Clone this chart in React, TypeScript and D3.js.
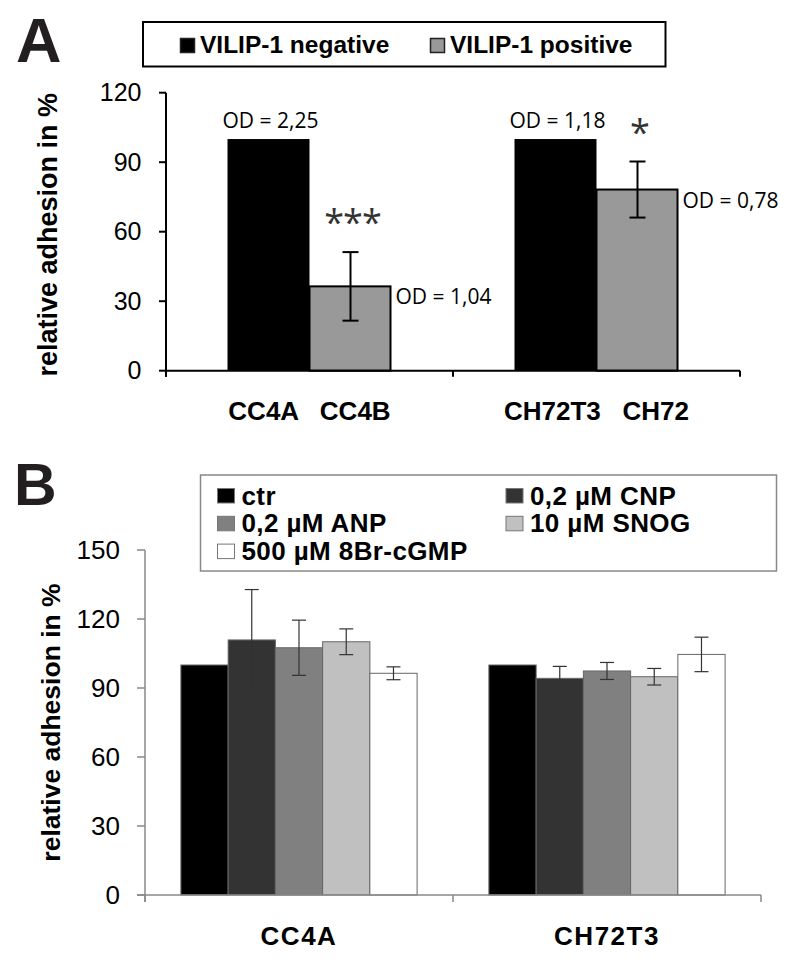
import React from "react";
import * as d3 from "d3";

// ---------- Panel A data ----------
const groupsA = ["CC4", "CH72"];
const groupLabelsA = ["CC4A   CC4B", "CH72T3   CH72"];
const seriesA = ["VILIP-1 negative", "VILIP-1 positive"];
const colorsA = ["#000000", "#999999"];
const negValuesA = [100, 100];
const posValuesA = [36.4, 78.2];
const posErrorsA = [14.8, 12.1];
const odNegA = ["OD = 2,25", "OD = 1,18"];
const odPosA = ["OD = 1,04", "OD = 0,78"];
const signifA = ["***", "*"];
const ticksA = [0, 30, 60, 90, 120];

// ---------- Panel B data ----------
const groupsB = ["CC4A", "CH72T3"];
const seriesB = ["ctr", "0,2 µM CNP", "0,2 µM ANP", "10 µM SNOG", "500 µM 8Br-cGMP"];
const colorsB = ["#000000", "#333333", "#808080", "#c0c0c0", "#ffffff"];
const valuesB = [
  [100, 110.9, 107.5, 110.1, 96.4],
  [100, 94.2, 97.4, 94.9, 104.6],
];
const errorsB = [
  [0, 21.9, 12.0, 5.6, 2.8],
  [0, 5.2, 3.7, 3.6, 7.5],
];
const ticksB = [0, 30, 60, 90, 120, 150];
const legendOrderB = [0, 1, 2, 3, 4]; // row-major, 2 columns

const SANS = "'Liberation Sans', Arial, sans-serif";
const HUMAN = "'Open Sans', 'DejaVu Sans', sans-serif";

export default function App() {
  // Panel A scales
  const yA = d3.scaleLinear().domain([0, 120]).range([370.7, 92.7]);
  const xA = d3.scaleBand<string>().domain(groupsA).range([166, 740]).paddingInner(0).paddingOuter(0);
  const xAin = d3.scaleBand<number>().domain([0, 1]).range([0, xA.bandwidth()]).paddingInner(0).paddingOuter(0.75);

  // Panel B scales
  const yB = d3.scaleLinear().domain([0, 150]).range([895, 550]);
  const xB = d3.scaleBand<string>().domain(groupsB).range([145, 761]).paddingInner(0).paddingOuter(0);
  const xBin = d3.scaleBand<number>().domain(d3.range(seriesB.length)).range([0, xB.bandwidth()]).paddingInner(0).paddingOuter(0.76);

  const x0A = xA.range()[0];
  const x1A = xA.range()[1];
  const x0B = xB.range()[0];
  const x1B = xB.range()[1];
  const boundariesA = [...groupsA.map((g) => xA(g) as number), x1A];
  const boundariesB = [...groupsB.map((g) => xB(g) as number), x1B];

  return (
    <svg width={800} height={962} style={{ position: "absolute", left: 0, top: 0, background: "#fff" }}>
      <rect x={0} y={0} width={800} height={962} fill="#fff" />

      {/* ===== Panel A ===== */}
      <text x={16} y={62} fontFamily={SANS} fontWeight="bold" fontSize={63} fill="#231f20">A</text>

      {/* Legend A */}
      <rect x={143} y={22} width={522.5} height={44.5} fill="#fff" stroke="#000" strokeWidth={2} />
      {seriesA.map((s, i) => (
        <g key={s} transform={`translate(${180 + i * 250},0)`}>
          <rect x={0.5} y={38.5} width={14} height={14} fill={colorsA[i]} stroke="#222" strokeWidth={1.5} />
          <text x={20} y={53} fontFamily={SANS} fontWeight="bold" fontSize={24.5} fill="#000">{s}</text>
        </g>
      ))}

      {/* Y axis A */}
      <line x1={x0A} x2={x0A} y1={yA(120)} y2={yA(0) + 6} stroke="#000" strokeWidth={2} />
      {ticksA.map((t) => (
        <g key={t}>
          <line x1={x0A - 7} x2={x0A} y1={yA(t)} y2={yA(t)} stroke="#000" strokeWidth={2} />
          <text x={141.5} y={yA(t)} dy="0.35em" textAnchor="end" fontFamily={SANS} fontSize={25} fill="#000">{t}</text>
        </g>
      ))}
      <text transform={`translate(57,${(yA(0) + yA(120)) / 2 + 3}) rotate(-90)`} textAnchor="middle" fontFamily={SANS} fontWeight="bold" fontSize={27} fill="#000">relative adhesion in %</text>

      {/* Bars A */}
      {groupsA.map((g, gi) => {
        const gx = xA(g) as number;
        const xn = gx + (xAin(0) as number);
        const xp = gx + (xAin(1) as number);
        const bw = xAin.bandwidth();
        const errTop = yA(posValuesA[gi] + posErrorsA[gi]);
        return (
          <g key={g}>
            <rect x={xn} y={yA(negValuesA[gi])} width={bw} height={yA(0) - yA(negValuesA[gi])} fill={colorsA[0]} />
            <rect x={xp} y={yA(posValuesA[gi])} width={bw - 1} height={yA(0) - yA(posValuesA[gi])} fill={colorsA[1]} stroke="#000" strokeWidth={2} />
            {/* error bar */}
            <line x1={xp + bw / 2} x2={xp + bw / 2} y1={errTop} y2={yA(posValuesA[gi] - posErrorsA[gi])} stroke="#000" strokeWidth={2} />
            <line x1={xp + bw / 2 - 8} x2={xp + bw / 2 + 8} y1={errTop} y2={errTop} stroke="#000" strokeWidth={2} />
            <line x1={xp + bw / 2 - 8} x2={xp + bw / 2 + 8} y1={yA(posValuesA[gi] - posErrorsA[gi])} y2={yA(posValuesA[gi] - posErrorsA[gi])} stroke="#000" strokeWidth={2} />
            {/* OD labels */}
            <text x={xn + bw / 2 + 2} y={yA(negValuesA[gi]) - 11} textAnchor="middle" fontFamily={HUMAN} fontSize={21} fill="#000">{odNegA[gi]}</text>
            <text x={xp + bw + 4} y={yA(posValuesA[gi]) + 18} fontFamily={HUMAN} fontSize={21} fill="#000">{odPosA[gi]}</text>
            {/* significance */}
            <text x={xp + bw / 2 + 2} y={errTop - 17} textAnchor="middle" fontFamily={HUMAN} fontSize={36} letterSpacing={-1} fill="#333">{signifA[gi]}</text>
          </g>
        );
      })}

      {/* X axis A */}
      <line x1={x0A} x2={x1A} y1={yA(0)} y2={yA(0)} stroke="#000" strokeWidth={2} />
      {boundariesA.map((b, i) => (
        <line key={i} x1={b} x2={b} y1={yA(0)} y2={yA(0) + 6} stroke="#000" strokeWidth={2} />
      ))}
      {groupsA.map((g, gi) => (
        <text key={g} x={(xA(g) as number) + xA.bandwidth() / 2} y={420} textAnchor="middle" fontFamily={SANS} fontWeight="bold" fontSize={26} fill="#000" style={{ whiteSpace: "pre" }} xmlSpace="preserve">{groupLabelsA[gi]}</text>
      ))}

      {/* ===== Panel B ===== */}
      <text x={14} y={505} fontFamily={SANS} fontWeight="bold" fontSize={59} fill="#231f20">B</text>

      {/* Legend B */}
      <rect x={200.5} y={475} width={576} height={96} fill="#fff" stroke="#888" strokeWidth={1.5} />
      {legendOrderB.map((si, k) => {
        const col = k % 2;
        const row = Math.floor(k / 2);
        const lx = col === 0 ? 217.5 : 506;
        const cy = 495.5 + row * 27.8;
        return (
          <g key={si}>
            <rect x={lx} y={cy - 7} width={17} height={14.5} fill={colorsB[si]} stroke="#777" strokeWidth={1} />
            <text x={lx + 24} y={cy + 9} fontFamily={SANS} fontWeight="bold" fontSize={26} letterSpacing={0.4} fill="#000">{seriesB[si]}</text>
          </g>
        );
      })}

      {/* Y axis B */}
      <line x1={x0B} x2={x0B} y1={yB(150)} y2={yB(0) + 7} stroke="#888" strokeWidth={1.5} />
      {ticksB.map((t) => (
        <g key={t}>
          <line x1={x0B - 8} x2={x0B} y1={yB(t)} y2={yB(t)} stroke="#888" strokeWidth={1.5} />
          <text x={120} y={yB(t)} dy="0.35em" textAnchor="end" fontFamily={SANS} fontSize={26} fill="#000">{t}</text>
        </g>
      ))}
      <text transform={`translate(60,${(yB(0) + yB(150)) / 2}) rotate(-90)`} textAnchor="middle" fontFamily={SANS} fontWeight="bold" fontSize={26.5} fill="#000">relative adhesion in %</text>

      {/* Bars B */}
      {groupsB.map((g, gi) => {
        const gx = xB(g) as number;
        const bw = xBin.bandwidth();
        return (
          <g key={g}>
            {seriesB.map((s, si) => {
              const bx = gx + (xBin(si) as number);
              const v = valuesB[gi][si];
              return (
                <rect key={s} x={bx} y={yB(v)} width={bw} height={yB(0) - yB(v)} fill={colorsB[si]} stroke="#666" strokeWidth={1} />
              );
            })}
            {seriesB.map((s, si) => {
              const e = errorsB[gi][si];
              if (!e) return null;
              const cx = gx + (xBin(si) as number) + bw / 2;
              const v = valuesB[gi][si];
              return (
                <g key={s + "e"} stroke="#333" strokeWidth={1.2}>
                  <line x1={cx} x2={cx} y1={yB(v + e)} y2={yB(v - e)} />
                  <line x1={cx - 7} x2={cx + 7} y1={yB(v + e)} y2={yB(v + e)} />
                  <line x1={cx - 7} x2={cx + 7} y1={yB(v - e)} y2={yB(v - e)} />
                </g>
              );
            })}
          </g>
        );
      })}

      {/* X axis B */}
      <line x1={x0B - 8} x2={x1B} y1={yB(0)} y2={yB(0)} stroke="#888" strokeWidth={1.5} />
      {boundariesB.map((b, i) => (
        <line key={i} x1={b} x2={b} y1={yB(0)} y2={yB(0) + 7} stroke="#888" strokeWidth={1.5} />
      ))}
      {groupsB.map((g) => (
        <text key={g} x={(xB(g) as number) + xB.bandwidth() / 2} y={945} textAnchor="middle" fontFamily={SANS} fontWeight="bold" fontSize={26} letterSpacing={1.5} fill="#000">{g}</text>
      ))}
    </svg>
  );
}
